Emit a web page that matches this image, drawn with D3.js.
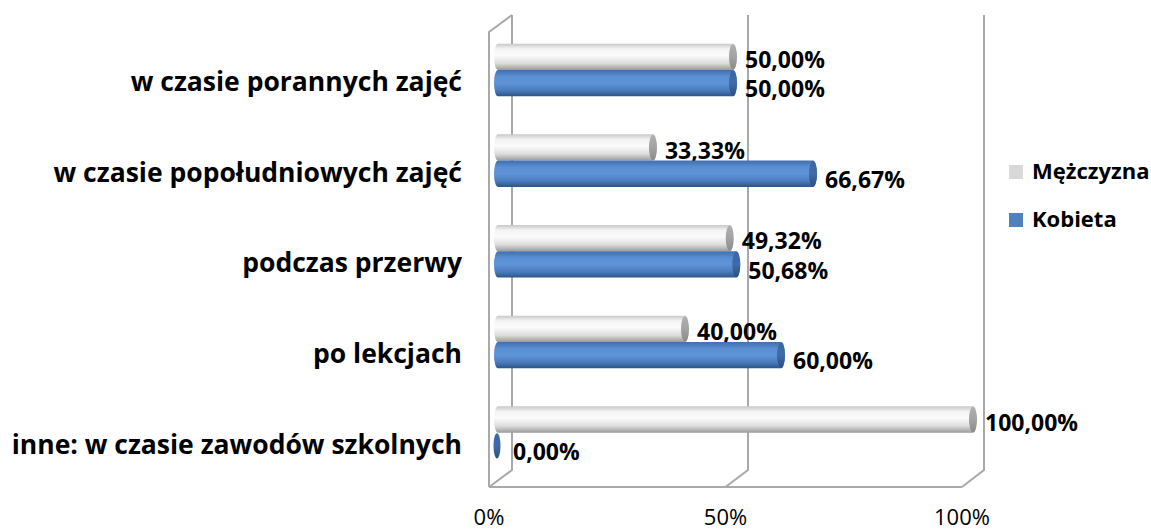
<!DOCTYPE html>
<html><head><meta charset="utf-8">
<script src="https://cdn.jsdelivr.net/npm/d3@7"></script>
<style>html,body{margin:0;padding:0;background:#fff;}svg{display:block;}</style>
</head><body>
<svg id="chart" width="1151" height="531"></svg>
<script>
const categories = ["w czasie porannych zajęć","w czasie popołudniowych zajęć","podczas przerwy","po lekcjach","inne: w czasie zawodów szkolnych"];
const seriesNames = ["Mężczyzna","Kobieta"];
const maleValues = [50.00, 33.33, 49.32, 40.00, 100.00];
const femaleValues = [50.00, 66.67, 50.68, 60.00, 0.00];
const tickValues = [0, 50, 100];
const tickLabels = ["0%", "50%", "100%"];

const svg = d3.select("#chart");
const FONT = "'Open Sans', Lato, sans-serif";
const lineColor = "#a9a9a9";

const xBack = d3.scaleLinear().domain([0,100]).range([512, 984]);
const xFront = d3.scaleLinear().domain([0,100]).range([489, 962]);
const xBar = d3.scaleLinear().domain([0,100]).range([497, 977]);
const yTop = 15, yBackFloor = 470, yFrontFloor = 487, yFrontTop = 32;

const y = d3.scaleBand().domain(categories).range([24.6, 478]).paddingInner(0.42).paddingOuter(0.21);
const ySub = d3.scaleBand().domain(seriesNames).range([0, y.bandwidth()]);

const defs = svg.append("defs");
function grad(id, stops){
  const g = defs.append("linearGradient").attr("id", id).attr("x1",0).attr("y1",0).attr("x2",0).attr("y2",1);
  stops.forEach(s => g.append("stop").attr("offset", s[0]).attr("stop-color", s[1]));
}
grad("gGrey", [[0,"#c8c8c8"],[0.2,"#f4f4f4"],[0.45,"#fbfbfb"],[0.75,"#dcdcdc"],[1,"#9a9a9a"]]);
grad("gBlue", [[0,"#3f6fae"],[0.25,"#5a8fd2"],[0.5,"#5e95d8"],[0.78,"#4a7bbd"],[1,"#2c5587"]]);
grad("gGreyCap", [[0,"#b0b0b0"],[0.5,"#a3a3a3"],[1,"#8a8a8a"]]);
grad("gBlueCap", [[0,"#3a68a4"],[0.5,"#3d6ca8"],[1,"#2a507f"]]);
const fills = {"Mężczyzna": ["url(#gGrey)","url(#gGreyCap)"], "Kobieta": ["url(#gBlue)","url(#gBlueCap)"]};
const legendColors = {"Mężczyzna": "#d9d9d9", "Kobieta": "#4f81bd"};

// Frame / walls
const frame = svg.append("g").attr("fill","none").attr("stroke",lineColor).attr("stroke-width",2);
tickValues.forEach(v => {
  frame.append("path").attr("d", `M${xBack(v)},${yTop}L${xBack(v)},${yBackFloor}L${xFront(v)},${yFrontFloor}`);
});
frame.append("path").attr("d", `M${xFront(0)},${yFrontFloor}L${xFront(100)},${yFrontFloor}`);
frame.append("path").attr("d", `M${xBack(0)},${yTop}L${xFront(0)},${yFrontTop}L${xFront(0)},${yFrontFloor}`);

// Bars
const data = categories.map((c,i) => ({cat:c, series:[
  {name: seriesNames[0], value: maleValues[i]},
  {name: seriesNames[1], value: femaleValues[i]}
]}));
const fmt = v => d3.format(".2f")(v).replace(".", ",") + "%";

const groups = svg.append("g").selectAll("g").data(data).join("g")
  .attr("transform", d => `translate(0,${y(d.cat)})`);
groups.each(function(d){
  const g = d3.select(this);
  d.series.forEach((s, si) => {
    const h = ySub.bandwidth();
    const y0 = ySub(s.name);
    const x0 = xBar(0), x1 = xBar(s.value);
    const capRx = 4;
    if (x1 - x0 > 2) {
      g.append("rect").attr("x", x0 - 3).attr("y", y0).attr("width", x1 - x0 + 3).attr("height", h)
        .attr("rx", capRx).attr("ry", h/2).attr("fill", fills[s.name][0]);
      g.append("ellipse").attr("cx", x1 - capRx).attr("cy", y0 + h/2).attr("rx", capRx).attr("ry", h/2 - 0.5)
        .attr("fill", fills[s.name][1]);
    } else {
      g.append("ellipse").attr("cx", x0).attr("cy", y0 + h/2).attr("rx", 3.5).attr("ry", h/2 - 0.5)
        .attr("fill", fills[s.name][1]);
    }
    g.append("text").attr("x", Math.max(x1, x0 + 8) + 8).attr("y", y0 + h - (si === 0 ? 2 : -1))
      .attr("font-family", FONT).attr("font-weight", "bold").attr("font-size", 23).attr("fill", "#000")
      .text(fmt(s.value));
  });
});

// Category labels
svg.append("g").selectAll("text").data(categories).join("text")
  .attr("x", 462).attr("y", d => y(d) + y.bandwidth()/2 + 21)
  .attr("text-anchor", "end").attr("font-family", FONT).attr("font-weight", "bold").attr("font-size", 26.5)
  .attr("fill", "#000").text(d => d);

// Axis tick labels
svg.append("g").selectAll("text").data(tickValues).join("text")
  .attr("x", (d) => xFront(d)).attr("y", 525).attr("text-anchor", "middle")
  .attr("font-family", FONT).attr("font-size", 22).attr("fill", "#000")
  .text((d,i) => tickLabels[i]);

// Legend
const legend = svg.append("g").selectAll("g").data(seriesNames).join("g")
  .attr("transform", (d,i) => `translate(1009,${165 + i*48})`);
legend.append("rect").attr("width", 14).attr("height", 14).attr("fill", d => legendColors[d]);
legend.append("text").attr("x", 23).attr("y", 14).attr("font-family", FONT).attr("font-weight", "bold")
  .attr("font-size", 22).attr("fill", "#000").text(d => d);
</script>
</body></html>
